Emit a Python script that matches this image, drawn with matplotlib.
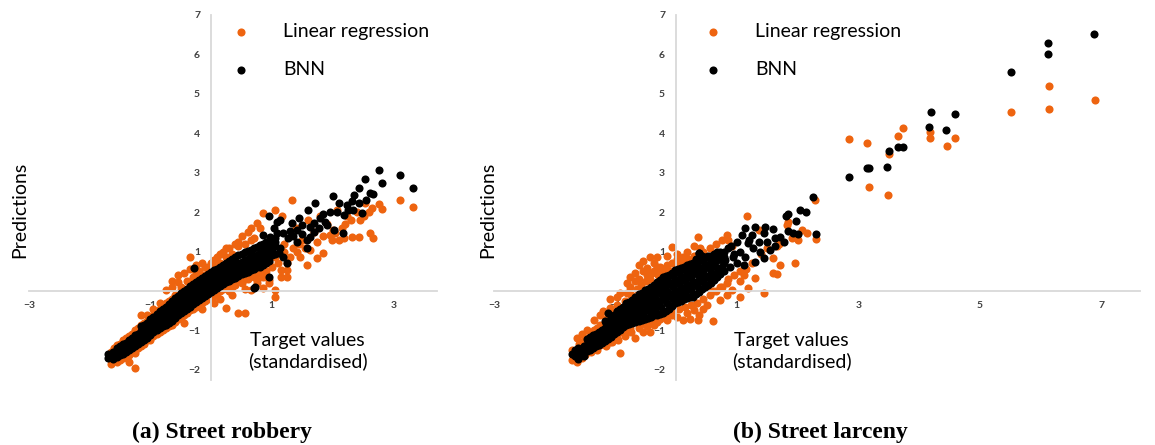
import numpy as np
import matplotlib.pyplot as plt

plt.rcParams["font.family"] = ["Lato", "DejaVu Sans"]

ORANGE = "#EE6410"
AXIS_GREY = "#D9D9D9"
TICK_GREY = "#404040"

# ---------------------------------------------------------------------------
# Data: (target, prediction) pairs
# ---------------------------------------------------------------------------

# (a) Street robbery - linear regression
rob_lr = [
    (-1.65, -1.75), (-1.65, -1.85), (-1.65, -1.55), (-1.55, -1.80), (-1.55, -1.38), (-1.55, -1.65),
    (-1.45, -1.70), (-1.45, -1.25), (-1.45, -1.55), (-1.35, -1.62), (-1.35, -1.15), (-1.35, -1.79),
    (-1.25, -1.50), (-1.25, -1.00), (-1.25, -1.96), (-1.25, -1.58), (-1.15, -1.40), (-1.15, -0.85),
    (-1.15, -0.60), (-1.05, -1.25), (-1.05, -0.75), (-1.05, -0.62), (-0.95, -1.15), (-0.95, -0.62),
    (-0.95, -0.45), (-0.85, -1.05), (-0.85, -0.45), (-0.85, -0.91), (-0.85, -0.30), (-0.75, -0.95),
    (-0.75, -0.30), (-0.75, 0.03), (-0.65, -0.85), (-0.65, -0.20), (-0.65, 0.25), (-0.65, 0.10),
    (-0.55, -0.70), (-0.55, -0.05), (-0.55, 0.24), (-0.55, 0.40), (-0.45, -0.60), (-0.45, 0.05),
    (-0.45, 0.45), (-0.45, -0.80), (-0.35, -0.48), (-0.35, 0.20), (-0.35, 0.87), (-0.35, 0.55),
    (-0.25, -0.40), (-0.25, 0.30), (-0.25, 0.45), (-0.25, 0.65), (-0.15, -0.31), (-0.15, 0.40),
    (-0.15, 0.70), (-0.15, -0.45), (-0.05, -0.20), (-0.05, 0.50), (-0.05, 0.62), (0.05, -0.12),
    (0.05, 0.60), (0.05, 0.79), (0.05, -0.30), (0.15, 0.00), (0.15, 0.70), (0.15, 0.95),
    (0.15, -0.20), (0.25, -0.44), (0.25, 0.10), (0.25, 0.87), (0.25, 1.08), (0.35, 0.11),
    (0.35, 0.20), (0.35, 0.95), (0.35, -0.10), (0.45, -0.57), (0.45, 0.25), (0.45, 1.13),
    (0.45, 1.25), (0.55, -0.57), (0.55, 0.30), (0.55, 1.20), (0.55, 0.05), (0.65, 0.03),
    (0.65, 0.40), (0.65, 1.30), (0.65, 1.59), (0.75, 0.20), (0.75, 0.45), (0.75, 1.72),
    (0.75, 0.28), (0.85, 0.07), (0.85, 0.36), (0.85, 1.97), (0.85, 0.60), (0.95, 0.20),
    (0.95, 0.28), (0.95, 1.20), (0.95, 0.70), (1.05, -0.14), (1.05, 0.03), (1.05, 2.06),
    (1.05, 0.85), (1.15, 0.36), (1.15, 0.53), (1.16, 1.89), (1.25, 0.36), (1.25, 0.53),
    (1.25, 0.70), (1.30, 0.87), (1.33, 2.31), (1.41, 1.00), (1.47, 0.87), (1.58, 0.66),
    (1.63, 1.04), (1.74, 0.83), (1.85, 0.96), (1.50, 1.30), (1.70, 1.50), (1.90, 1.70),
    (1.80, 1.89), (1.96, 1.42), (1.99, 1.29), (2.04, 1.46), (2.07, 2.06), (2.10, 1.29),
    (2.18, 1.34), (2.20, 1.70), (2.24, 1.89), (2.32, 1.36), (2.40, 2.00), (2.43, 1.38),
    (2.51, 1.89), (2.53, 2.23), (2.60, 2.00), (2.62, 1.48), (2.67, 1.34), (2.77, 2.21),
    (2.81, 2.07), (3.11, 2.31), (3.32, 2.14), (1.40, 1.60), (1.20, 1.20), (1.60, 1.80),
    (-1.60, -1.45), (-1.50, -1.35), (-1.40, -1.20), (-1.30, -1.10), (-1.20, -0.95), (-1.10, -0.80),
    (-1.00, -0.70), (-0.90, -0.55), (-0.80, -0.40), (-0.70, -0.25), (-0.60, -0.10), (-0.50, 0.10),
    (-0.40, 0.25), (-0.30, 0.35), (-0.20, 0.50), (-0.10, 0.60), (0.00, 0.70), (0.10, 0.85),
    (0.20, 1.00), (0.30, 1.10), (0.40, 1.20), (0.50, 1.40), (0.60, 1.50), (0.70, 1.35),
    (0.80, 1.60), (-1.50, -1.75), (-1.40, -1.68), (-1.30, -1.55), (-1.20, -1.45), (-1.10, -1.35),
    (-1.00, -1.25), (-0.90, -1.10), (-0.80, -1.00), (-0.70, -0.90), (-0.60, -0.78), (-0.50, -0.68),
    (-0.40, -0.55), (-0.30, -0.45), (-0.20, -0.35), (-0.10, -0.25), (0.00, -0.15), (0.10, -0.05),
    (0.20, 0.05), (0.30, 0.00), (0.40, 0.15), (0.50, 0.20), (0.60, 0.30), (0.70, 0.35),
    (0.80, 0.45), (0.90, 0.50), (1.00, 0.60), (1.10, 0.70), (1.20, 1.00), (1.35, 1.10),
    (1.45, 1.20), (1.55, 1.10), (1.75, 1.25), (1.85, 1.40), (2.00, 1.55), (2.15, 1.60),
    (2.30, 1.80), (2.45, 1.80), (2.65, 2.10),
]

# (a) Street robbery - BNN
rob_bnn = [
    (-1.70, -1.70), (-1.70, -1.60), (-1.62, -1.72), (-1.62, -1.55), (-1.62, -1.62), (-1.55, -1.60),
    (-1.55, -1.45), (-1.55, -1.68), (-1.45, -1.50), (-1.45, -1.35), (-1.45, -1.60), (-1.35, -1.40),
    (-1.35, -1.25), (-1.35, -1.50), (-1.25, -1.30), (-1.25, -1.12), (-1.25, -1.40), (-1.15, -1.18),
    (-1.15, -1.02), (-1.15, -1.30), (-1.15, -0.90), (-1.05, -1.05), (-1.05, -0.90), (-1.05, -1.18),
    (-1.05, -0.80), (-0.95, -0.95), (-0.95, -0.78), (-0.95, -1.05), (-0.95, -0.65), (-0.85, -0.82),
    (-0.85, -0.65), (-0.85, -0.95), (-0.85, -0.50), (-0.75, -0.70), (-0.75, -0.52), (-0.75, -0.85),
    (-0.75, -0.40), (-0.65, -0.58), (-0.65, -0.40), (-0.65, -0.75), (-0.65, -0.25), (-0.55, -0.45),
    (-0.55, -0.28), (-0.55, -0.62), (-0.55, -0.12), (-0.45, -0.35), (-0.45, -0.15), (-0.45, -0.50),
    (-0.45, 0.00), (-0.35, -0.22), (-0.35, -0.05), (-0.35, -0.40), (-0.35, 0.12), (-0.25, -0.10),
    (-0.25, 0.08), (-0.25, -0.28), (-0.25, 0.22), (-0.15, 0.00), (-0.15, 0.18), (-0.15, -0.18),
    (-0.15, 0.32), (-0.05, 0.10), (-0.05, 0.28), (-0.05, -0.08), (-0.05, 0.42), (0.05, 0.20),
    (0.05, 0.38), (0.05, 0.02), (0.05, 0.52), (0.15, 0.30), (0.15, 0.48), (0.15, 0.12),
    (0.15, 0.62), (0.25, 0.38), (0.25, 0.55), (0.25, 0.22), (0.25, 0.72), (0.35, 0.45),
    (0.35, 0.62), (0.35, 0.30), (0.35, 0.82), (0.45, 0.52), (0.45, 0.70), (0.45, 0.38),
    (0.45, 0.92), (0.55, 0.60), (0.55, 0.78), (0.55, 0.45), (0.55, 0.98), (0.65, 0.68),
    (0.65, 0.85), (0.65, 0.52), (0.65, 1.05), (0.75, 0.75), (0.75, 0.92), (0.75, 0.60),
    (0.75, 1.12), (0.85, 0.82), (0.85, 1.00), (0.85, 0.65), (0.85, 1.20), (0.95, 0.90),
    (0.95, 1.08), (0.95, 0.75), (0.95, 1.28), (1.05, 0.95), (1.05, 1.15), (1.05, 1.35),
    (-1.66, -1.66), (-1.50, -1.52), (-1.50, -1.62), (-1.50, -1.40), (-1.40, -1.45), (-1.40, -1.32),
    (-1.40, -1.55), (-1.30, -1.35), (-1.30, -1.20), (-1.30, -1.45), (-1.20, -1.22), (-1.20, -1.08),
    (-1.20, -1.35), (-1.10, -1.12), (-1.10, -0.96), (-1.10, -1.25), (-1.10, -0.85), (-1.00, -1.00),
    (-1.00, -0.85), (-1.00, -1.12), (-1.00, -0.72), (-0.90, -0.88), (-0.90, -0.72), (-0.90, -1.00),
    (-0.90, -0.58), (-0.80, -0.76), (-0.80, -0.60), (-0.80, -0.90), (-0.80, -0.45), (-0.70, -0.64),
    (-0.70, -0.46), (-0.70, -0.80), (-0.70, -0.32), (-0.60, -0.52), (-0.60, -0.35), (-0.60, -0.68),
    (-0.60, -0.18), (-0.50, -0.40), (-0.50, -0.22), (-0.50, -0.56), (-0.50, -0.06), (-0.40, -0.28),
    (-0.40, -0.10), (-0.40, -0.45), (-0.40, 0.06), (-0.30, -0.16), (-0.30, 0.02), (-0.30, -0.34),
    (-0.30, 0.17), (-0.20, -0.05), (-0.20, 0.13), (-0.20, -0.23), (-0.20, 0.27), (-0.10, 0.05),
    (-0.10, 0.23), (-0.10, -0.13), (-0.10, 0.37), (0.00, 0.15), (0.00, 0.33), (0.00, -0.03),
    (0.00, 0.47), (0.10, 0.25), (0.10, 0.43), (0.10, 0.07), (0.10, 0.57), (0.20, 0.34),
    (0.20, 0.51), (0.20, 0.17), (0.20, 0.67), (0.30, 0.42), (0.30, 0.58), (0.30, 0.26),
    (0.30, 0.77), (0.40, 0.48), (0.40, 0.66), (0.40, 0.34), (0.40, 0.87), (0.50, 0.56),
    (0.50, 0.74), (0.50, 0.42), (0.50, 0.95), (0.60, 0.64), (0.60, 0.82), (0.60, 0.48),
    (0.60, 1.02), (0.70, 0.72), (0.70, 0.88), (0.70, 0.56), (0.70, 1.08), (0.80, 0.78),
    (0.80, 0.96), (0.80, 0.62), (0.80, 1.16), (0.90, 0.86), (0.90, 1.04), (0.90, 0.70),
    (0.90, 1.24), (1.00, 0.92), (1.00, 1.12), (1.00, 1.30),
    (0.55, 0.68), (0.65, 0.95), (0.75, 0.82), (0.85, 0.90), (0.95, 1.00), (0.45, 0.60),
    (0.35, 0.53), (0.25, 0.46), (0.90, 0.95), (0.80, 0.70), (0.70, 0.64), (0.60, 0.56),
    (0.50, 0.48), (1.00, 1.02), (1.05, 1.25),
    (-0.29, 0.58), (0.70, 0.07), (0.72, 0.11), (0.96, 0.36), (0.86, 1.13), (0.81, 0.87),
    (0.96, 1.89), (0.86, 1.42), (0.92, 1.25), (0.97, 1.38), (1.03, 1.13), (1.03, 1.59),
    (1.08, 1.46), (1.08, 1.76), (1.11, 0.96), (1.14, 1.08), (1.14, 1.80), (1.19, 0.87),
    (1.19, 1.46), (1.25, 0.70), (1.27, 1.34), (1.30, 1.51), (1.33, 1.73), (1.35, 1.40),
    (1.41, 1.25), (1.41, 1.55), (1.44, 1.85), (1.49, 1.68), (1.50, 1.45), (1.58, 1.08),
    (1.58, 1.29), (1.59, 2.06), (1.63, 1.38), (1.63, 1.63), (1.69, 1.72), (1.70, 1.50),
    (1.71, 2.23), (1.77, 1.59), (1.80, 1.85), (1.85, 1.95), (1.88, 1.76), (1.91, 1.68),
    (1.96, 2.01), (2.00, 2.42), (2.02, 1.55), (2.07, 2.01), (2.10, 2.23), (2.17, 1.48),
    (2.18, 1.93), (2.24, 2.18), (2.25, 2.05), (2.32, 2.27), (2.34, 2.06), (2.36, 2.44),
    (2.43, 2.23), (2.43, 2.61), (2.48, 1.97), (2.53, 2.84), (2.55, 2.30), (2.62, 2.48),
    (2.67, 2.46), (2.77, 3.07), (2.81, 2.73), (3.11, 2.94), (3.32, 2.61),
]

# (b) Street larceny - linear regression
lar_lr = [
    (-1.72, -1.75), (-1.72, -1.50), (-1.64, -1.20), (-1.64, -1.79), (-1.64, -1.62), (-1.55, -1.10),
    (-1.55, -1.70), (-1.55, -1.30), (-1.47, -0.99), (-1.47, -1.55), (-1.36, -0.74), (-1.36, -1.45),
    (-1.36, -1.00), (-1.25, -0.60), (-1.25, -1.38), (-1.25, -0.85), (-1.20, -0.52), (-1.20, -1.25),
    (-1.09, -0.44), (-1.09, -1.30), (-1.09, -0.20), (-0.98, -0.14), (-0.98, -1.20), (-0.98, -0.35),
    (-0.92, -1.58), (-0.92, -0.05), (-0.92, -1.05), (-0.81, -0.06), (-0.81, 0.20), (-0.81, -1.00),
    (-0.76, 0.11), (-0.76, 0.35), (-0.76, -0.95), (-0.68, -1.20), (-0.68, 0.45), (-0.68, 0.25),
    (-0.62, 0.66), (-0.62, 0.30), (-0.62, -0.95), (-0.55, 0.50), (-0.55, 0.75), (-0.55, -1.03),
    (-0.48, 0.58), (-0.48, 0.40), (-0.48, -0.90), (-0.43, -1.03), (-0.43, 0.85), (-0.43, 0.30),
    (-0.37, 0.70), (-0.37, 0.50), (-0.37, -0.85), (-0.32, -0.78), (-0.32, 0.60), (-0.32, 0.85),
    (-0.26, 0.62), (-0.26, 0.45), (-0.26, -0.70), (-0.15, 0.66), (-0.15, 0.90), (-0.15, -0.74),
    (-0.07, 1.11), (-0.07, 0.70), (-0.07, -0.60), (0.02, 0.80), (0.02, -0.65), (0.02, 0.95),
    (0.12, -0.74), (0.12, 0.85), (0.12, 0.60), (0.18, 1.00), (0.18, -0.55), (0.23, 0.74),
    (0.23, -0.70), (0.29, -0.48), (0.29, 1.13), (0.36, 1.36), (0.36, -0.74), (0.37, -0.60),
    (0.45, -0.45), (0.45, 1.00), (0.51, -0.36), (0.51, 0.10), (0.61, -0.75), (0.61, 0.00),
    (0.72, -0.23), (0.72, 0.11), (0.83, 0.20), (0.83, 1.42), (0.83, -0.10), (0.86, 1.29),
    (0.92, 0.03), (0.92, 1.13), (1.05, -0.14), (1.05, 0.25), (1.11, 0.41), (1.19, 0.07),
    (1.30, 0.32), (1.44, -0.06), (1.17, 1.90), (1.36, 1.55), (1.60, 0.45), (1.66, 0.42),
    (1.60, 0.83), (1.66, 1.13), (1.71, 0.66), (1.96, 0.72), (1.82, 1.68), (1.85, 1.76),
    (2.07, 1.55), (2.15, 1.46), (2.31, 1.31), (2.28, 2.32), (2.84, 3.86), (3.14, 3.76),
    (3.18, 2.64), (3.49, 2.44), (3.51, 3.47), (3.65, 3.93), (3.73, 4.14), (4.18, 4.04),
    (4.18, 3.88), (4.46, 3.68), (4.60, 3.88), (5.52, 4.54), (6.14, 4.61), (6.14, 5.21),
    (6.90, 4.85),
    (-1.60, -1.35), (-1.50, -1.20), (-1.40, -1.10), (-1.30, -0.95), (-1.15, -0.70), (-1.05, -0.55),
    (-0.95, -0.40), (-0.85, -0.25), (-0.75, -0.10), (-0.65, 0.05), (-0.58, 0.15), (-0.50, 0.25),
    (-0.40, 0.45), (-0.30, 0.40), (-0.20, 0.55), (-0.10, 0.50), (0.00, 0.65), (0.10, 0.72),
    (0.20, 0.80), (0.30, 0.90), (0.40, 1.10), (0.55, 1.10), (0.65, 1.20), (0.75, 1.30),
    (-1.50, -1.62), (-1.40, -1.55), (-1.30, -1.50), (-1.15, -1.40), (-1.05, -1.30), (-0.95, -1.25),
    (-0.85, -1.15), (-0.75, -1.05), (-0.60, -0.85), (-0.50, -0.80), (-0.40, -0.75), (-0.25, -0.65),
    (-0.15, -0.55), (-0.05, -0.50), (0.05, -0.45), (0.15, -0.40), (0.25, -0.35), (0.35, -0.30),
    (0.45, -0.20), (0.55, -0.10), (0.65, 0.00), (0.75, 0.10), (0.85, 0.30), (0.95, 0.40),
    (1.05, 0.50), (1.15, 0.55), (1.25, 0.70), (1.40, 0.95), (1.50, 1.10), (1.70, 1.20),
    (1.90, 1.35), (2.00, 1.30),
]

# (b) Street larceny - BNN
lar_bnn = [
    (-1.72, -1.61), (-1.62, -1.72), (-1.62, -1.45), (-1.62, -1.58), (-1.52, -1.55), (-1.52, -1.40),
    (-1.52, -1.65), (-1.42, -1.50), (-1.42, -1.30), (-1.42, -1.16), (-1.32, -1.40), (-1.32, -1.22),
    (-1.32, -1.08), (-1.22, -1.32), (-1.22, -1.12), (-1.22, -0.98), (-1.12, -1.22), (-1.12, -1.02),
    (-1.12, -0.88), (-1.12, -0.57), (-1.02, -1.10), (-1.02, -0.90), (-1.02, -0.75), (-1.02, -0.62),
    (-0.92, -0.99), (-0.92, -0.80), (-0.92, -0.62), (-0.92, -0.45), (-0.82, -0.85), (-0.82, -0.68),
    (-0.82, -0.50), (-0.82, -0.31), (-0.72, -0.82), (-0.72, -0.60), (-0.72, -0.42), (-0.72, -0.22),
    (-0.62, -0.75), (-0.62, -0.50), (-0.62, -0.30), (-0.62, -0.08), (-0.52, -0.72), (-0.52, -0.45),
    (-0.52, -0.20), (-0.52, 0.02), (-0.42, -0.65), (-0.42, -0.35), (-0.42, -0.10), (-0.42, 0.11),
    (-0.32, -0.60), (-0.32, -0.30), (-0.32, 0.00), (-0.32, 0.22), (-0.22, -0.55), (-0.22, -0.20),
    (-0.22, 0.10), (-0.22, 0.36), (-0.12, -0.45), (-0.12, -0.12), (-0.12, 0.18), (-0.12, 0.40),
    (-0.02, -0.31), (-0.02, -0.05), (-0.02, 0.25), (-0.02, 0.53), (0.08, -0.25), (0.08, 0.05),
    (0.08, 0.32), (0.08, 0.58), (0.18, -0.18), (0.18, 0.12), (0.18, 0.40), (0.18, 0.65),
    (0.28, -0.14), (0.28, 0.20), (0.28, 0.48), (0.28, 0.72), (0.38, -0.02), (0.38, 0.28),
    (0.38, 0.55), (0.38, 0.96), (0.48, 0.11), (0.48, 0.35), (0.48, 0.62), (0.48, 0.87),
    (0.58, 0.20), (0.58, 0.42), (0.58, 0.70), (0.58, 0.90), (0.68, 0.35), (0.68, 0.45),
    (0.68, 0.78), (0.68, 1.00), (0.78, 0.50), (0.78, 0.70), (0.78, 1.00), (0.78, 0.85),
    (-1.67, -1.66), (-1.67, -1.50), (-1.57, -1.62), (-1.57, -1.48), (-1.47, -1.52), (-1.47, -1.36),
    (-1.47, -1.23), (-1.37, -1.45), (-1.37, -1.28), (-1.37, -1.12), (-1.27, -1.36), (-1.27, -1.18),
    (-1.27, -1.03), (-1.17, -1.27), (-1.17, -1.08), (-1.17, -0.93), (-1.17, -0.75), (-1.07, -1.16),
    (-1.07, -0.96), (-1.07, -0.82), (-1.07, -0.66), (-0.97, -1.05), (-0.97, -0.86), (-0.97, -0.70),
    (-0.97, -0.52), (-0.87, -0.92), (-0.87, -0.74), (-0.87, -0.56), (-0.87, -0.40), (-0.77, -0.84),
    (-0.77, -0.64), (-0.77, -0.46), (-0.77, -0.28), (-0.67, -0.78), (-0.67, -0.56), (-0.67, -0.36),
    (-0.67, -0.15), (-0.57, -0.74), (-0.57, -0.48), (-0.57, -0.25), (-0.57, -0.04), (-0.47, -0.68),
    (-0.47, -0.40), (-0.47, -0.15), (-0.47, 0.06), (-0.37, -0.62), (-0.37, -0.33), (-0.37, -0.05),
    (-0.37, 0.16), (-0.27, -0.58), (-0.27, -0.25), (-0.27, 0.05), (-0.27, 0.29), (-0.17, -0.50),
    (-0.17, -0.16), (-0.17, 0.14), (-0.17, 0.38), (-0.07, -0.38), (-0.07, -0.08), (-0.07, 0.21),
    (-0.07, 0.46), (0.03, -0.28), (0.03, 0.00), (0.03, 0.28), (0.03, 0.55), (0.13, -0.21),
    (0.13, 0.08), (0.13, 0.36), (0.13, 0.62), (0.23, -0.16), (0.23, 0.16), (0.23, 0.44),
    (0.23, 0.68), (0.33, -0.08), (0.33, 0.24), (0.33, 0.52), (0.33, 0.80), (0.43, 0.04),
    (0.43, 0.32), (0.43, 0.58), (0.43, 0.90), (0.53, 0.15), (0.53, 0.38), (0.53, 0.66),
    (0.53, 0.88), (0.63, 0.28), (0.63, 0.44), (0.63, 0.74), (0.63, 0.95), (0.73, 0.42),
    (0.73, 0.58), (0.73, 0.90), (0.73, 1.00),
    (-1.45, -1.43), (-1.45, -1.27), (-1.35, -1.34), (-1.35, -1.18), (-1.25, -1.25), (-1.25, -1.08),
    (-1.15, -1.15), (-1.15, -0.98), (-1.15, -0.82), (-1.05, -1.03), (-1.05, -0.86), (-1.05, -0.71),
    (-0.95, -0.92), (-0.95, -0.75), (-0.95, -0.58), (-0.85, -0.80), (-0.85, -0.62), (-0.85, -0.45),
    (-0.75, -0.72), (-0.75, -0.52), (-0.75, -0.34), (-0.65, -0.64), (-0.65, -0.42), (-0.65, -0.22),
    (-0.55, -0.60), (-0.55, -0.34), (-0.55, -0.12), (-0.45, -0.52), (-0.45, -0.25), (-0.45, -0.02),
    (-0.35, -0.46), (-0.35, -0.17), (-0.35, 0.08), (-0.25, -0.40), (-0.25, -0.08), (-0.25, 0.20),
    (-0.15, -0.30), (-0.15, 0.01), (-0.15, 0.28), (-0.05, -0.20), (-0.05, 0.10), (-0.05, 0.38),
    (0.05, -0.12), (0.05, 0.18), (0.05, 0.45), (0.15, -0.04), (0.15, 0.26), (0.15, 0.52),
    (0.25, 0.02), (0.25, 0.34), (0.25, 0.58), (0.35, 0.12), (0.35, 0.42), (0.35, 0.68),
    (0.45, 0.22), (0.45, 0.48), (0.45, 0.75), (0.55, 0.30), (0.55, 0.56), (0.55, 0.80),
    (0.65, 0.40), (0.65, 0.62), (0.65, 0.88), (0.75, 0.60), (0.75, 0.78), (0.75, 0.92),
    (0.37, 0.97), (0.81, 0.79), (0.86, 1.08), (0.88, 0.60), (0.90, 1.15), (0.94, 0.87),
    (0.95, 0.95), (1.00, 0.70), (1.00, 1.25), (1.05, 1.00), (1.08, 1.42), (1.11, 0.66),
    (1.14, 0.87), (1.14, 1.59), (1.19, 1.21), (1.20, 1.30), (1.25, 1.42), (1.27, 1.08),
    (1.30, 0.74), (1.30, 1.63), (1.36, 1.25), (1.38, 1.00), (1.44, 0.83), (1.45, 1.46),
    (1.47, 1.63), (1.49, 1.25), (1.55, 1.04), (1.60, 1.57), (1.63, 1.13), (1.63, 1.34),
    (1.71, 1.38), (1.77, 1.25), (1.81, 1.90), (1.84, 1.95), (1.85, 1.51), (1.93, 1.46),
    (1.97, 1.78), (2.01, 1.45), (2.04, 2.06), (2.14, 2.00), (2.26, 2.38), (2.31, 1.45),
    (2.84, 2.89), (3.14, 3.11), (3.18, 3.12), (3.48, 3.14), (3.51, 3.55), (3.65, 3.64),
    (3.73, 3.65), (4.17, 4.17), (4.19, 4.54), (4.45, 4.08), (4.60, 4.48), (5.51, 5.55),
    (6.13, 6.01), (6.13, 6.29), (6.89, 6.51),
]

rob_xticks = [-3, -1, 1, 3]
lar_xticks = [-3, -1, 1, 3, 5, 7]
yticks = [-2, -1, 1, 2, 3, 4, 5, 6, 7]


def draw_panel(ax, lr, bnn, xlim, xticks, leg_x, xlabel_x):
    lr = np.array(lr)
    bnn = np.array(bnn)
    ax.scatter(lr[:, 0], lr[:, 1], s=34, color=ORANGE, linewidths=0,
               label="Linear regression", zorder=2)
    ax.scatter(bnn[:, 0], bnn[:, 1], s=34, color="black", linewidths=0,
               label="BNN", zorder=3)

    ax.set_xlim(*xlim)
    ax.set_ylim(-2.25, 7)
    ax.set_xticks(xticks)
    ax.set_yticks(yticks)
    ax.set_axisbelow(True)

    for side in ("top", "right"):
        ax.spines[side].set_visible(False)
    for side in ("left", "bottom"):
        ax.spines[side].set_position(("data", 0))
        ax.spines[side].set_color(AXIS_GREY)
        ax.spines[side].set_linewidth(1.3)
    ax.tick_params(length=0, labelsize=7.5, labelcolor=TICK_GREY)
    ax.tick_params(axis="y", pad=8)
    ax.tick_params(axis="x", pad=7)
    for lab in ax.get_xticklabels() + ax.get_yticklabels():
        lab.set_fontweight("bold")

    ax.text(xlabel_x, -1.53, "Target values\n(standardised)", ha="center",
            va="center", fontsize=14, linespacing=1.2)

    ax.legend(loc="upper left", bbox_to_anchor=(leg_x, 0.977), frameon=False,
              fontsize=14, handlelength=1.0, handletextpad=1.66, labelspacing=1.05,
              borderpad=0, borderaxespad=0, scatterpoints=1)


fig = plt.figure(figsize=(11.55, 4.45), dpi=100)
ax_a = fig.add_axes([29 / 1155, 65.3 / 445, 408 / 1155, 364.7 / 445])
ax_b = fig.add_axes([494 / 1155, 65.3 / 445, 646 / 1155, 364.7 / 445])

draw_panel(ax_a, rob_lr, rob_bnn, (-3, 3.72), rob_xticks, 0.496, 1.59)
draw_panel(ax_b, lar_lr, lar_bnn, (-3, 7.64), lar_xticks, 0.324, 1.90)

fig.text(20 / 1155, 1 - 210 / 445, "Predictions", rotation=90, ha="center",
         va="center", fontsize=14)
fig.text(488 / 1155, 1 - 210 / 445, "Predictions", rotation=90, ha="center",
         va="center", fontsize=14)

fig.text(222 / 1155, 1 - 432 / 445, "(a) Street robbery", ha="center", va="center",
         fontsize=17, fontweight="bold", family="Liberation Serif")
fig.text(820 / 1155, 1 - 432 / 445, "(b) Street larceny", ha="center", va="center",
         fontsize=17, fontweight="bold", family="Liberation Serif")

fig.savefig("out.png", dpi=100)
